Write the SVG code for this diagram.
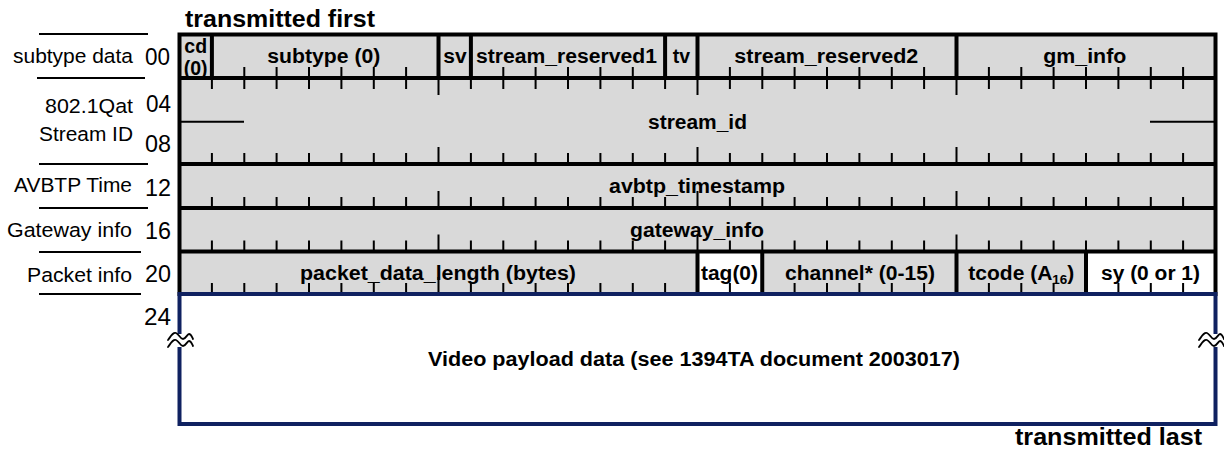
<svg xmlns="http://www.w3.org/2000/svg" width="1224" height="456" viewBox="0 0 1224 456">
<style>
.lbl{font-family:"Liberation Sans",Arial,sans-serif;font-size:20.5px;fill:#000}
.num{font-family:"Liberation Sans",Arial,sans-serif;font-size:23.5px;fill:#000}
.fld{font-family:"Liberation Sans",Arial,sans-serif;font-size:19.5px;font-weight:bold;fill:#000}
.ttl{font-family:"Liberation Sans",Arial,sans-serif;font-size:24.5px;font-weight:bold;fill:#000}
.g{fill:#d9d9d9}
.w{fill:#ffffff}
.tick{stroke:#000;stroke-width:2;fill:none}
.div{stroke:#000;stroke-width:4;fill:none}
.sep{stroke:#000;stroke-width:2;fill:none}
.brk{stroke:#000;stroke-width:1.8;fill:none;stroke-linejoin:round;stroke-linecap:round}
</style>
<rect width="1224" height="456" fill="#fff"/>

<text class="ttl" x="185" y="27" textLength="190" lengthAdjust="spacingAndGlyphs">transmitted first</text>
<text class="ttl" x="1015" y="445" textLength="187" lengthAdjust="spacingAndGlyphs">transmitted last</text>

<!-- left labels -->
<g id="left-labels">
  <path class="sep" d="M39 34H148 M37 78H145 M39 164H148 M39 208H148 M39 252H141 M39 294H141"/>
  <text class="lbl" x="13" y="62.7" textLength="120" lengthAdjust="spacingAndGlyphs">subtype data</text>
  <text class="lbl" x="45" y="113" textLength="88" lengthAdjust="spacingAndGlyphs">802.1Qat</text>
  <text class="lbl" x="39" y="141" textLength="94" lengthAdjust="spacingAndGlyphs">Stream ID</text>
  <text class="lbl" x="14" y="191.5" textLength="118" lengthAdjust="spacingAndGlyphs">AVBTP Time</text>
  <text class="lbl" x="7" y="237" textLength="125" lengthAdjust="spacingAndGlyphs">Gateway info</text>
  <text class="lbl" x="27" y="281.5" textLength="105" lengthAdjust="spacingAndGlyphs">Packet info</text>
  <text class="num" x="145" y="65" textLength="25" lengthAdjust="spacingAndGlyphs">00</text>
  <text class="num" x="146" y="112" textLength="25" lengthAdjust="spacingAndGlyphs">04</text>
  <text class="num" x="145" y="152" textLength="26" lengthAdjust="spacingAndGlyphs">08</text>
  <text class="num" x="145" y="196" textLength="26" lengthAdjust="spacingAndGlyphs">12</text>
  <text class="num" x="145" y="238.5" textLength="26" lengthAdjust="spacingAndGlyphs">16</text>
  <text class="num" x="145" y="281.7" textLength="26" lengthAdjust="spacingAndGlyphs">20</text>
  <text class="num" x="144" y="325" textLength="27" lengthAdjust="spacingAndGlyphs">24</text>
</g>

<!-- fields -->
<g id="f-cd"><rect class="g" x="179.5" y="34.5" width="32.4" height="43.5"/>
  <text class="fld" x="195.7" y="52.5" font-size="14" text-anchor="middle">cd</text>
  <text class="fld" x="195.7" y="74.5" font-size="14" text-anchor="middle">(0)</text></g>
<g id="f-subtype"><rect class="g" x="211.9" y="34.5" width="226.6" height="43.5"/>
  <text class="fld" x="267.3" y="63.3" textLength="113" lengthAdjust="spacingAndGlyphs">subtype (0)</text></g>
<g id="f-sv"><rect class="g" x="438.5" y="34.5" width="32.4" height="43.5"/>
  <text class="fld" x="443.3" y="63.3" textLength="23.4" lengthAdjust="spacingAndGlyphs">sv</text></g>
<g id="f-sr1"><rect class="g" x="470.9" y="34.5" width="194.2" height="43.5"/>
  <text class="fld" x="476" y="63.3" textLength="181" lengthAdjust="spacingAndGlyphs">stream_reserved1</text></g>
<g id="f-tv"><rect class="g" x="665.1" y="34.5" width="32.4" height="43.5"/>
  <text class="fld" x="672.7" y="63.3" textLength="17.3" lengthAdjust="spacingAndGlyphs">tv</text></g>
<g id="f-sr2"><rect class="g" x="697.5" y="34.5" width="259" height="43.5"/>
  <text class="fld" x="734.3" y="63.3" textLength="184" lengthAdjust="spacingAndGlyphs">stream_reserved2</text></g>
<g id="f-gm"><rect class="g" x="956.5" y="34.5" width="259" height="43.5"/>
  <text class="fld" x="1043.3" y="63.3" textLength="83" lengthAdjust="spacingAndGlyphs">gm_info</text></g>
<g id="f-streamid"><rect class="g" x="179.5" y="78" width="1036" height="86"/>
  <text class="fld" x="648" y="129" textLength="99" lengthAdjust="spacingAndGlyphs">stream_id</text></g>
<g id="f-avbtp"><rect class="g" x="179.5" y="164" width="1036" height="44"/>
  <text class="fld" x="609" y="193" textLength="176" lengthAdjust="spacingAndGlyphs">avbtp_timestamp</text></g>
<g id="f-gateway"><rect class="g" x="179.5" y="208" width="1036" height="43.5"/>
  <text class="fld" x="630" y="236.5" textLength="134" lengthAdjust="spacingAndGlyphs">gateway_info</text></g>
<g id="f-pdl"><rect class="g" x="179.5" y="251.5" width="518" height="42.5"/>
  <text class="fld" x="300" y="280" textLength="276" lengthAdjust="spacingAndGlyphs">packet_data_length (bytes)</text></g>
<g id="f-tag"><rect class="w" x="697.5" y="251.5" width="64.75" height="42.5"/>
  <text class="fld" x="701" y="280" textLength="57" lengthAdjust="spacingAndGlyphs">tag(0)</text></g>
<g id="f-channel"><rect class="g" x="762.25" y="251.5" width="194.25" height="42.5"/>
  <text class="fld" x="785" y="280" textLength="150" lengthAdjust="spacingAndGlyphs">channel* (0-15)</text></g>
<g id="f-tcode"><rect class="g" x="956.5" y="251.5" width="129.5" height="42.5"/>
  <text class="fld" x="968.3" y="280" textLength="106" lengthAdjust="spacingAndGlyphs">tcode (A<tspan font-size="12.5" dy="4">16</tspan><tspan dy="-4">)</tspan></text></g>
<g id="f-sy"><rect class="w" x="1086" y="251.5" width="129.5" height="42.5"/>
  <text class="fld" x="1101" y="280" textLength="99" lengthAdjust="spacingAndGlyphs">sy (0 or 1)</text></g>

<!-- grid: ticks and lines -->
<g id="grid">
  <path class="tick" d="M211.9 67V89M244.3 67V89M276.6 67V89M309 67V89M341.4 67V89M373.8 67V89M406.1 67V89M438.5 67V95M470.9 67V89M503.3 67V89M535.6 67V89M568 67V89M600.4 67V89M632.8 67V89M665.1 67V89M697.5 67V95M729.9 67V89M762.3 67V89M794.6 67V89M827 67V89M859.4 67V89M891.8 67V89M924.1 67V89M956.5 67V95M988.9 67V89M1021.3 67V89M1053.6 67V89M1086 67V89M1118.4 67V89M1150.8 67V89M1183.1 67V89"/>
  <path id="ticks-up" class="tick" d="M211.9 153V164M244.3 153V164M276.6 153V164M309 153V164M341.4 153V164M373.8 153V164M406.1 153V164M438.5 147V164M470.9 153V164M503.3 153V164M535.6 153V164M568 153V164M600.4 153V164M632.8 153V164M665.1 153V164M697.5 147V164M729.9 153V164M762.3 153V164M794.6 153V164M827 153V164M859.4 153V164M891.8 153V164M924.1 153V164M956.5 147V164M988.9 153V164M1021.3 153V164M1053.6 153V164M1086 153V164M1118.4 153V164M1150.8 153V164M1183.1 153V164"/>
  <use href="#ticks-up" y="44"/>
  <use href="#ticks-up" y="87.5"/>
  <use href="#ticks-up" y="130"/>
  <path class="div" d="M179.5 78H1215.5M179.5 164H1215.5M179.5 208H1215.5M179.5 251.5H1215.5"/>
  <path class="sep" d="M181 121.7H244M1150 121.7H1215"/>
  <path class="div" d="M211.9 34.5V78M438.5 34.5V78M470.9 34.5V78M665.1 34.5V78M697.5 34.5V78M956.5 34.5V78M697.5 251.5V294M762.25 251.5V294M956.5 251.5V294M1086 251.5V294"/>
  <rect class="div" x="179.5" y="34.5" width="1036" height="259.5"/>
</g>

<!-- payload -->
<g id="payload">
  <rect x="179.5" y="294" width="1036" height="130" fill="none" stroke="#0f2160" stroke-width="4"/>
  <text class="fld" x="428" y="366" font-size="21" textLength="532" lengthAdjust="spacingAndGlyphs">Video payload data (see 1394TA document 2003017)</text>
  <g id="break-left">
    <rect x="175" y="334" width="9" height="13" fill="#fff"/>
    <path class="brk" d="M168 340C171 336 173 332 176 333C179 334 180 339 183 339C186 339 187 334 189 334C191 334 192 337 193 339M168 347C171 343 173 339 176 340C179 341 180 346 183 346C186 346 187 341 189 341C191 341 192 344 193 346"/>
  </g>
  <g id="break-right" transform="translate(1031 0)">
    <rect x="179.5" y="334" width="9" height="13" fill="#fff"/>
    <path class="brk" d="M168 340C171 336 173 332 176 333C179 334 180 339 183 339C186 339 187 334 189 334C191 334 192 337 193 339M168 347C171 343 173 339 176 340C179 341 180 346 183 346C186 346 187 341 189 341C191 341 192 344 193 346"/>
  </g>
</g>
</svg>
